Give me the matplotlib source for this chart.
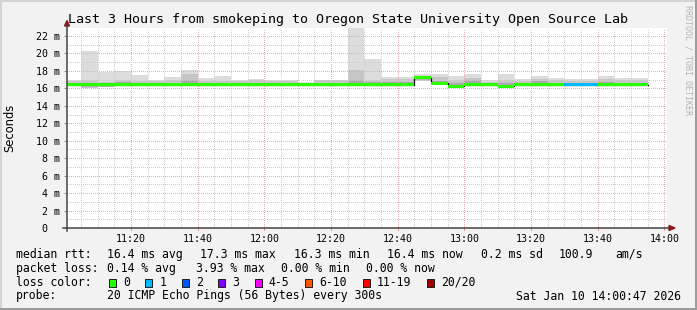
import matplotlib
matplotlib.use("Agg")
import matplotlib.pyplot as plt
from matplotlib.patches import Rectangle, Polygon
from matplotlib.lines import Line2D

# ---------------- data ----------------
title = "Last 3 Hours from smokeping to Oregon State University Open Source Lab"
y_label = "Seconds"
side_text = "RRDTOOL / TOBI OETIKER"
window_start = "11:00:47"
window_end = "14:00:47"

x_tick_labels = ["11:20", "11:40", "12:00", "12:20", "12:40", "13:00", "13:20", "13:40", "14:00"]
y_tick_values = [0, 2, 4, 6, 8, 10, 12, 14, 16, 18, 20, 22]
y_tick_labels = ["0  ", "2 m", "4 m", "6 m", "8 m", "10 m", "12 m", "14 m", "16 m",
                 "18 m", "20 m", "22 m"]

bin_starts = ["11:00", "11:05", "11:10", "11:15", "11:20", "11:25", "11:30", "11:35",
              "11:40", "11:45", "11:50", "11:55", "12:00", "12:05", "12:10", "12:15",
              "12:20", "12:25", "12:30", "12:35", "12:40", "12:45", "12:50", "12:55",
              "13:00", "13:05", "13:10", "13:15", "13:20", "13:25", "13:30", "13:35",
              "13:40", "13:45", "13:50"]
bin_minutes = 5

# values in ms
rtt_max = [16.95, 20.25, 17.9, 17.95, 17.5, 17.0, 17.3, 18.1,
           17.2, 17.45, 17.0, 17.05, 17.0, 17.0, 16.7, 17.0,
           17.0, 24.0, 19.4, 17.35, 17.35, 17.7, 17.7, 17.4,
           17.65, 17.0, 17.6, 17.05, 17.4, 17.15, 17.05, 17.05,
           17.4, 17.15, 17.15]
rtt_upper = [16.8, 17.0, 16.75, 17.0, 16.9, 16.9, 16.95, 17.7,
             16.8, 16.9, 16.85, 16.95, 16.9, 16.9, 16.6, 16.95,
             16.95, 18.1, 17.0, 17.1, 17.1, 17.45, 17.25, 17.0,
             17.2, 16.75, 16.95, 16.8, 17.05, 16.95, 16.85, 16.85,
             17.05, 16.95, 16.95]
rtt_core = [16.5, 16.5, 16.5, 16.7, 16.5, 16.5, 16.5, 16.95,
            16.5, 16.5, 16.5, 16.5, 16.5, 16.5, 16.5, 16.5,
            16.5, 17.0, 16.7, 16.75, 16.75, 17.25, 16.9, 16.6,
            17.0, 16.55, 16.6, 16.55, 16.8, 16.55, 16.55, 16.55,
            16.7, 16.6, 16.6]
rtt_median = [16.4, 16.4, 16.4, 16.4, 16.4, 16.4, 16.4, 16.4,
              16.4, 16.4, 16.4, 16.4, 16.4, 16.4, 16.4, 16.4,
              16.4, 16.4, 16.4, 16.4, 16.4, 17.2, 16.6, 16.25,
              16.4, 16.4, 16.25, 16.4, 16.4, 16.4, 16.4, 16.4,
              16.4, 16.4, 16.4]
rtt_min = [16.3, 16.1, 16.15, 16.35, 16.35, 16.35, 16.35, 16.35,
           16.35, 16.35, 16.35, 16.35, 16.35, 16.35, 16.35, 16.35,
           16.35, 16.35, 16.35, 16.35, 16.35, 16.9, 16.4, 16.15,
           16.3, 16.3, 16.15, 16.3, 16.35, 16.35, 16.35, 16.35,
           16.35, 16.35, 16.35]
loss_class = [0, 0, 0, 0, 0, 0, 0, 0, 0, 0, 0, 0, 0, 0, 0, 0, 0, 0,
              0, 0, 0, 0, 0, 0, 0, 0, 0, 0, 0, 0, 1, 1, 0, 0, 0]

loss_labels = ["0", "1", "2", "3", "4-5", "6-10", "11-19", "20/20"]
loss_colors = ["#26ff00", "#00b8ff", "#0059ff", "#7e00ff", "#ff00ff", "#ff5500",
               "#ff0000", "#a10000"]

stats_rtt = ["16.4 ms avg", "17.3 ms max", "16.3 ms min", "16.4 ms now", "0.2 ms sd",
             "100.9", "am/s"]
stats_loss = ["0.14 % avg", "3.93 % max", "0.00 % min", "0.00 % now"]
probe_text = "20 ICMP Echo Pings (56 Bytes) every 300s"
stamp_text = "Sat Jan 10 14:00:47 2026"

# ---------------- layout ----------------
W, H, DPI = 697, 310, 100
PX = 72.0 / DPI  # points per pixel
MONO = "DejaVu Sans Mono"


def to_min(s):
    parts = [int(p) for p in s.split(":")]
    while len(parts) < 3:
        parts.append(0)
    return (parts[0] - 11) * 60 + parts[1] + parts[2] / 60.0


def fx(px):
    return px / W


def fy(py):
    return 1 - py / H


fig = plt.figure(figsize=(W / DPI, H / DPI), dpi=DPI, facecolor="#f2f2f2")

cx0, cx1, cy0, cy1 = 67, 667, 228, 28
ax = fig.add_axes([fx(cx0), fy(cy0), (cx1 - cx0) / W, (cy0 - cy1) / H])
ax.set_facecolor("white")
x0, x1 = to_min(window_start), to_min(window_end)
ymax = 22.92
ax.set_xlim(x0, x1)
ax.set_ylim(0, ymax)
for s in ax.spines.values():
    s.set_visible(False)

# smoke
starts = [to_min(b) for b in bin_starts]
xs = starts + [starts[-1] + bin_minutes]


def ext(v):
    return list(v) + [v[-1]]


ax.fill_between(xs, ext(rtt_min), ext(rtt_max), step="post", color="#dcdcdc", lw=0, zorder=1)
ax.fill_between(xs, ext(rtt_min), ext(rtt_upper), step="post", color="#c6c6c6", lw=0, zorder=2)
ax.fill_between(xs, ext(rtt_median), ext(rtt_core), step="post", color="#a9a9a9", lw=0, zorder=3)

# grid (drawn over smoke), 1px dotted
dot = (0, (1, 2))
for m in range(0, 200, 5):
    if x0 < m < x1:
        major = (m % 20 == 0)
        ax.axvline(m, color="#f3aaaa" if major else "#cdcdcd", lw=PX, ls=dot,
                   antialiased=False, zorder=4)
for v in range(1, 23):
    major = (v % 2 == 0)
    ax.axhline(v, color="#f3aaaa" if major else "#cdcdcd", lw=PX, ls=dot,
               antialiased=False, zorder=4)

# median line + loss-coloured band
ax.step(xs, ext(rtt_median), where="post", color="black", lw=PX * 1.2, zorder=5)
half = 1.5 / ((cy0 - cy1) / ymax)
i = 0
while i < len(starts):
    j = i
    while j + 1 < len(starts) and loss_class[j + 1] == loss_class[i] and \
            abs(rtt_median[j + 1] - rtt_median[i]) < 1e-9:
        j += 1
    ax.fill_between([xs[i], xs[j + 1]], rtt_median[i] - half, rtt_median[i] + half,
                    color=loss_colors[loss_class[i]], lw=0, zorder=6)
    i = j + 1

# ticks
ax.set_xticks([to_min(t) for t in x_tick_labels])
ax.set_xticklabels(x_tick_labels, fontfamily=MONO, fontsize=7.2)
ax.set_yticks(y_tick_values)
ax.set_yticklabels(y_tick_labels, fontfamily=MONO, fontsize=7.2)
ax.tick_params(axis="x", length=3 * PX, width=PX, color="#e08080", pad=5 * PX, direction="inout")
ax.tick_params(axis="y", length=3 * PX, width=PX, color="#c08080", pad=4 * PX, direction="out")

# axes lines and arrows
axis_col = "#404040"
arrow_col = "#8b1a1a"
fig.add_artist(Line2D([fx(cx0), fx(cx0)], [fy(cy0 + 3), fy(25)], color=axis_col, lw=1.5 * PX))
fig.add_artist(Line2D([fx(63), fx(669)], [fy(cy0), fy(cy0)], color=axis_col, lw=1.5 * PX))
fig.add_artist(Polygon([[fx(64.5), fy(26)], [fx(69.5), fy(26)], [fx(67), fy(20.5)]],
                       closed=True, color=arrow_col, transform=fig.transFigure))
fig.add_artist(Polygon([[fx(669), fy(cy0 - 2.5)], [fx(669), fy(cy0 + 2.5)], [fx(675), fy(cy0)]],
                       closed=True, color=arrow_col, transform=fig.transFigure))

# titles
fig.text(fx(348), fy(19), title, ha="center", va="center", fontfamily=MONO, fontsize=9.6)
fig.text(fx(10), fy(127.5), y_label, ha="center", va="center", rotation=90,
         fontfamily="DejaVu Sans", fontsize=8.3)
fig.text(fx(688), fy(5), side_text, ha="center", va="top", rotation=270,
         fontfamily=MONO, fontsize=6.0, color="#b4b4b4")

# legend / footer
FS = 8.3
CW = 6.96
r1, r2, r3, r4 = 254.3, 268.3, 282.3, 296.0
fig.text(fx(16), fy(r1), "median rtt:", va="center", fontfamily=MONO, fontsize=FS)
for s, x in zip(stats_rtt, [107, 200, 294, 387, 481, 559, 615]):
    fig.text(fx(x), fy(r1), s, va="center", fontfamily=MONO, fontsize=FS)
fig.text(fx(16), fy(r2), "packet loss:", va="center", fontfamily=MONO, fontsize=FS)
for s, x in zip(stats_loss, [107, 196, 281, 366]):
    fig.text(fx(x), fy(r2), s, va="center", fontfamily=MONO, fontsize=FS)
fig.text(fx(16), fy(r3), "loss color:", va="center", fontfamily=MONO, fontsize=FS)
bx = 109.0
for lab, col in zip(loss_labels, loss_colors):
    fig.add_artist(Rectangle((fx(bx), fy(286.5)), 7 / W, 8 / H, transform=fig.transFigure,
                             facecolor=col, edgecolor="#202020", lw=PX))
    lx = bx + 14
    fig.text(fx(lx), fy(r3), lab, va="center", fontfamily=MONO, fontsize=FS)
    bx = lx + len(lab) * CW + 15.5
fig.text(fx(16), fy(r4), "probe:", va="center", fontfamily=MONO, fontsize=FS)
fig.text(fx(107), fy(r4), probe_text, va="center", fontfamily=MONO, fontsize=FS)
fig.text(fx(681), fy(r4), stamp_text, va="center", ha="right", fontfamily=MONO, fontsize=FS)

# 3D frame
fig.add_artist(Rectangle((0, fy(2)), 1, 2 / H, transform=fig.transFigure, color="#d4d4d4", lw=0))
fig.add_artist(Rectangle((0, 0), 2 / W, 1, transform=fig.transFigure, color="#d4d4d4", lw=0))
fig.add_artist(Rectangle((0, 0), 1, 2.5 / H, transform=fig.transFigure, color="#9c9c9c", lw=0))
fig.add_artist(Rectangle((1 - 2 / W, 0), 2 / W, 1, transform=fig.transFigure, color="#9c9c9c", lw=0))

fig.savefig("out.png", dpi=DPI, facecolor=fig.get_facecolor())
